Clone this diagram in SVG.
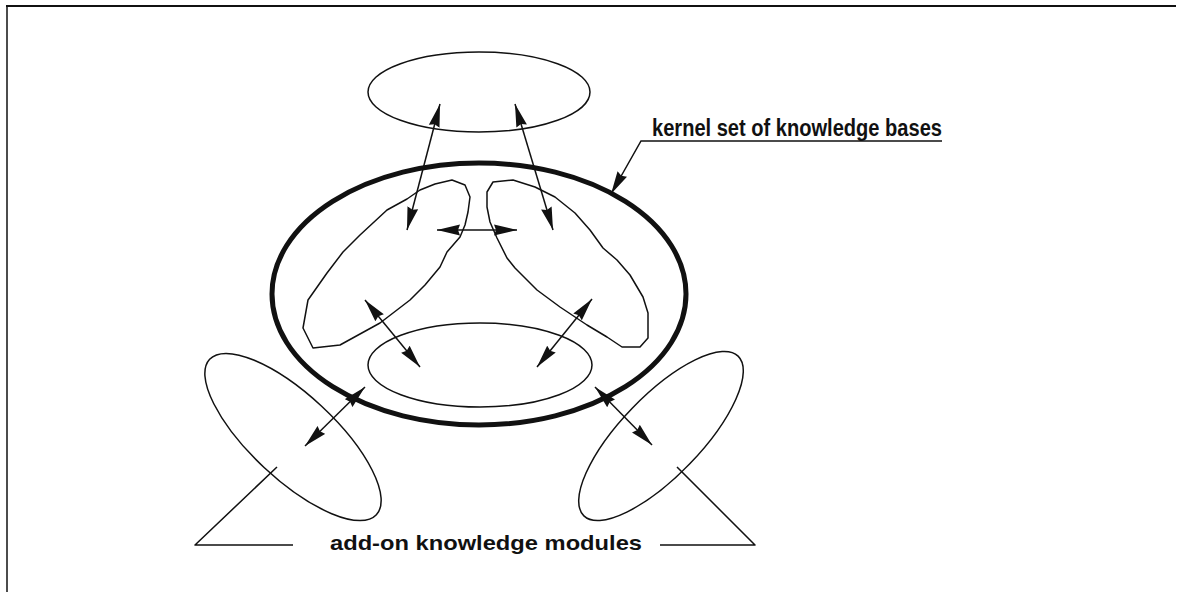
<svg xmlns="http://www.w3.org/2000/svg" width="1178" height="592" viewBox="0 0 1178 592">
<style>
.thin{fill:none;stroke:#111;stroke-width:1.5;stroke-linejoin:round}
.thick{fill:none;stroke:#111;stroke-width:5}
.arr{fill:none;stroke:#111;stroke-width:1.5;marker-start:url(#ah);marker-end:url(#ah)}
.one{fill:none;stroke:#111;stroke-width:1.5;marker-end:url(#ah)}
.lbl{font-family:"Liberation Sans",Arial,sans-serif;font-weight:bold;fill:#111}
</style>
<defs>
<marker id="ah" markerUnits="userSpaceOnUse" markerWidth="24" markerHeight="12" refX="23" refY="6" orient="auto-start-reverse" viewBox="0 0 24 12">
<path d="M0,0.5 L23,6 L0,11.5 L2,6 z" fill="#111"/>
</marker>
</defs>
<rect width="1178" height="592" fill="#fff"/>
<g id="frame">
<line x1="6" y1="6" x2="1176" y2="6" stroke="#111" stroke-width="2"/>
<line x1="7" y1="6" x2="7" y2="592" stroke="#111" stroke-width="1.5"/>
</g>
<g id="top-kb"><ellipse class="thin" cx="479" cy="92" rx="111" ry="40"/></g>
<g id="kernel"><ellipse class="thick" cx="479" cy="294" rx="207" ry="131"/></g>
<g id="left-lobe"><polygon class="thin" points="452,180 465,185 470,197 468,212 465,225 460,237 447,252 440,267 425,285 410,300 380,323 340,345 313,348 303,328 308,300 327,273 343,252 360,235 387,210 407,199 420,190 435,184"/></g>
<g id="right-lobe"><polygon class="thin" points="493,182 487,192 487,207 490,222 497,238 507,258 515,268 537,290 560,307 587,325 607,337 622,347 640,347 648,338 648,313 643,297 630,275 617,260 603,248 590,230 575,213 555,197 535,187 513,180"/></g>
<g id="bottom-kb"><ellipse class="thin" cx="480" cy="365" rx="112" ry="42"/></g>
<g id="left-module"><ellipse class="thin" cx="293" cy="437" rx="114" ry="42" transform="rotate(43 293 437)"/></g>
<g id="right-module"><ellipse class="thin" cx="661" cy="436" rx="111" ry="40" transform="rotate(-46 661 436)"/></g>
<g id="connectors">
<line class="arr" x1="440" y1="104" x2="407" y2="230"/>
<line class="arr" x1="515" y1="104" x2="553" y2="230"/>
<line class="arr" x1="437" y1="230" x2="517" y2="230"/>
<line class="arr" x1="365" y1="300" x2="420" y2="367"/>
<line class="arr" x1="592" y1="299" x2="537" y2="367"/>
<line class="arr" x1="365" y1="387" x2="305" y2="446"/>
<line class="arr" x1="595" y1="387" x2="652" y2="445"/>
<polyline class="one" points="942,141 641,141 611,194"/>
<polyline class="thin" points="277,467 195,545 293,545"/>
<polyline class="thin" points="677,467 755,545 660,545"/>
</g>
<g id="labels">
<text class="lbl" x="652" y="136" font-size="23" textLength="290" lengthAdjust="spacingAndGlyphs">kernel set of knowledge bases</text>
<text class="lbl" x="330" y="550" font-size="21" textLength="312" lengthAdjust="spacingAndGlyphs">add-on knowledge modules</text>
</g>
</svg>
